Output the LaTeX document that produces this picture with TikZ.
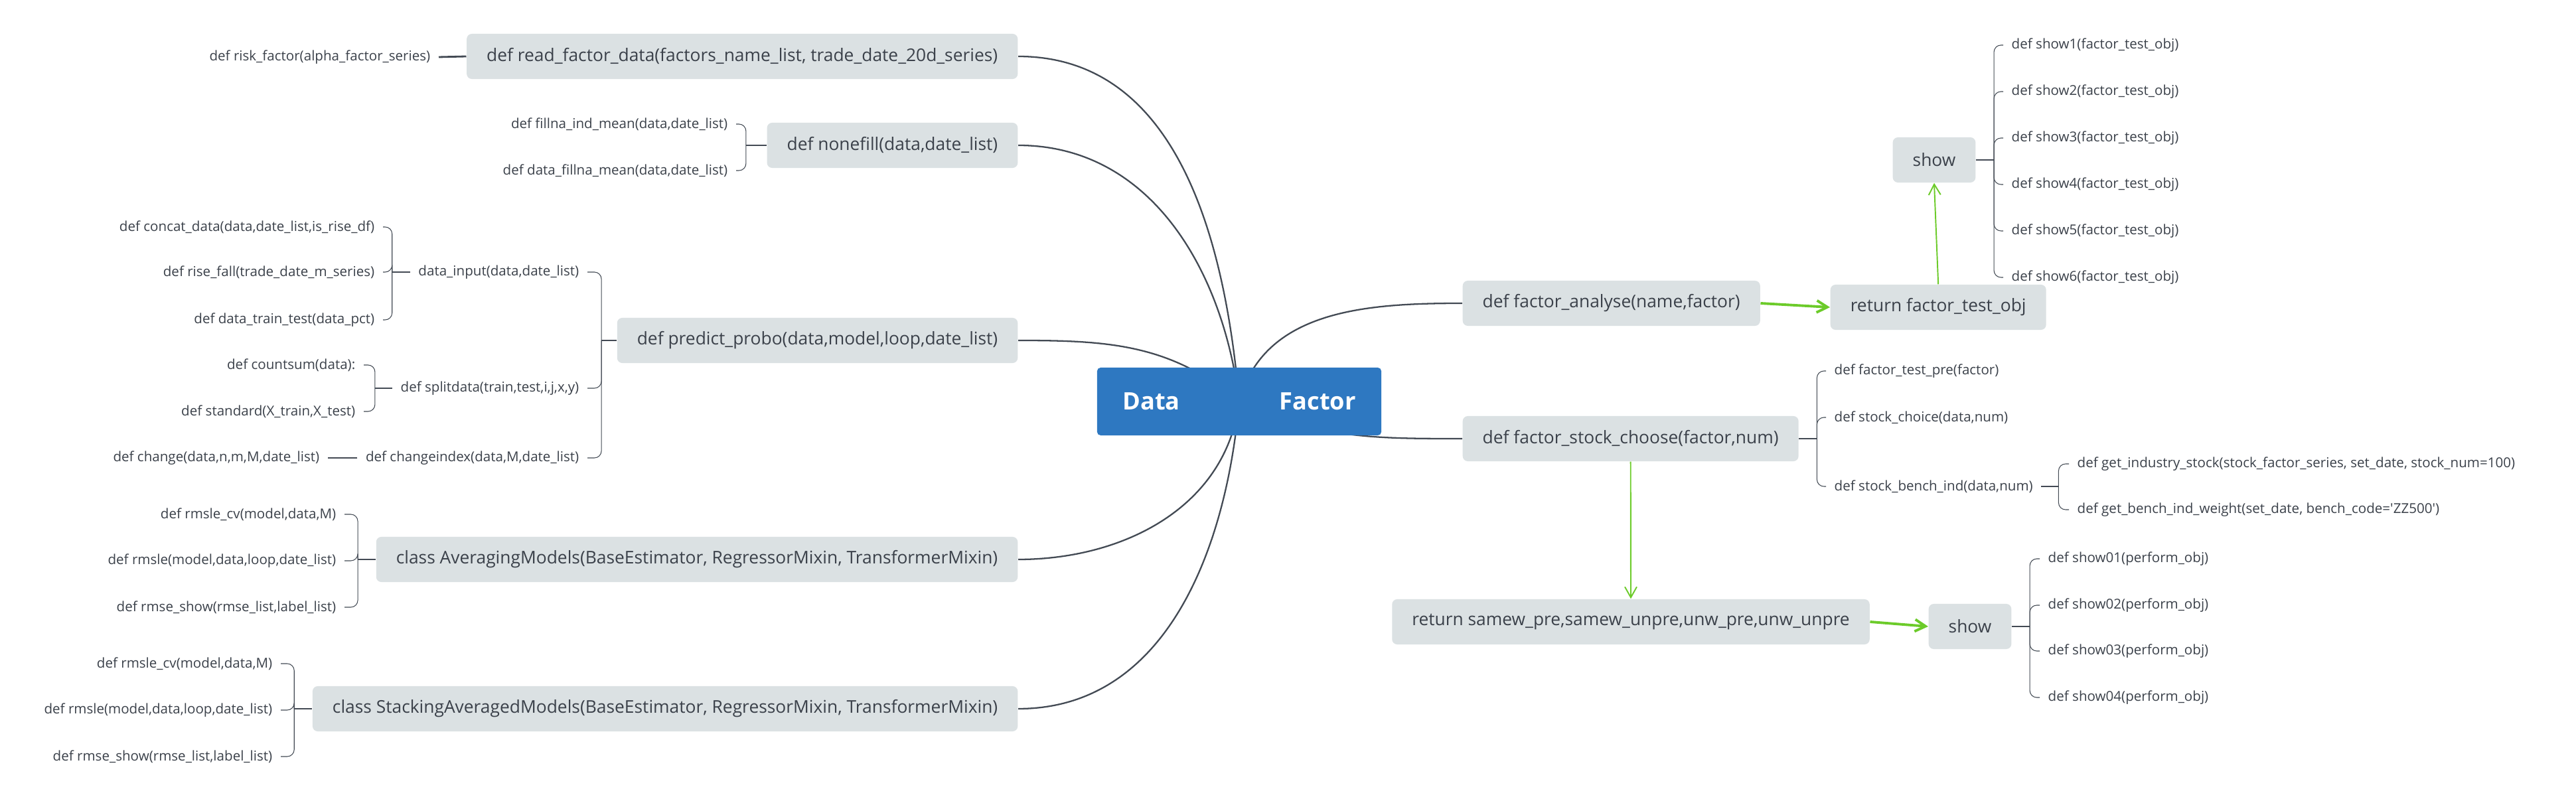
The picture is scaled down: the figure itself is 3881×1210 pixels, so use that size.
\documentclass[tikz,border=0pt]{standalone}
\usepackage{fontspec}
\setmainfont{Open Sans}
\usetikzlibrary{arrows.meta,backgrounds}

\definecolor{boxgray}{HTML}{DBE1E3}
\definecolor{inkgray}{HTML}{3B414A}
\definecolor{linegray}{HTML}{434A54}
\definecolor{topicblue}{HTML}{2E78C1}
\definecolor{arrowgreen}{HTML}{6CCB2A}

\begin{document}
\begin{tikzpicture}[x=0.01cm, y=-0.01cm,
        topic/.style={fill=topicblue, rounded corners=1.5pt, minimum width=4.28cm, minimum height=1.02cm, text=white, font=\fontsize{10.3pt}{12pt}\selectfont\bfseries},
        func/.style={fill=boxgray, rounded corners=2.2pt, minimum height=0.68cm, inner xsep=0.3cm, text=inkgray, font=\fontsize{7.5pt}{8.5pt}\selectfont},
        leaf/.style={inner xsep=0.12cm, inner ysep=0.05cm, text=inkgray, font=\fontsize{5.85pt}{7pt}\selectfont},
        branch/.style={draw=linegray, line width=0.65pt},
        stub/.style={draw=linegray, line width=0.8pt},
        brk/.style={draw=linegray, line width=0.3pt, rounded corners=3pt},
        flow/.style={draw=arrowgreen, line width=0.55pt, -{Straight Barb[length=0.16cm, width=0.18cm]}},
        bigflow/.style={flow, line width=1.1pt}]

        \useasboundingbox (0,0) rectangle (3881,1210);

        % Nodes
        \node[topic] at (1867, 605) (datafactor) {Data\hspace{1.5cm}Factor};

        \node[func, anchor=east] at (1534, 85)   (read)     {def read\_factor\_data(factors\_name\_list, trade\_date\_20d\_series)};
        \node[func, anchor=east] at (1534, 219)  (nonefill) {def nonefill(data,date\_list)};
        \node[func, anchor=east] at (1534, 513)  (predict)  {def predict\_probo(data,model,loop,date\_list)};
        \node[func, anchor=east] at (1534, 843)  (avg)      {class AveragingModels(BaseEstimator, RegressorMixin, TransformerMixin)};
        \node[func, anchor=east] at (1534, 1068) (stack)    {class StackingAveragedModels(BaseEstimator, RegressorMixin, TransformerMixin)};

        \node[leaf, anchor=east] at (661, 86)   (risk)     {def risk\_factor(alpha\_factor\_series)};
        \node[leaf, anchor=east] at (1109, 187) (fillna)   {def fillna\_ind\_mean(data,date\_list)};
        \node[leaf, anchor=east] at (1109, 257) (dfmean)   {def data\_fillna\_mean(data,date\_list)};
        \node[leaf, anchor=east] at (885, 410)  (dinput)   {data\_input(data,date\_list)};
        \node[leaf, anchor=east] at (885, 585)  (split)    {def splitdata(train,test,i,j,x,y)};
        \node[leaf, anchor=east] at (885, 690)  (cindex)   {def changeindex(data,M,date\_list)};
        \node[leaf, anchor=east] at (577, 342)  (concat)   {def concat\_data(data,date\_list,is\_rise\_df)};
        \node[leaf, anchor=east] at (577, 410)  (risefall) {def rise\_fall(trade\_date\_m\_series)};
        \node[leaf, anchor=east] at (577, 482)  (dtt)      {def data\_train\_test(data\_pct)};
        \node[leaf, anchor=east] at (548, 550)  (countsum) {def countsum(data):};
        \node[leaf, anchor=east] at (548, 620)  (standard) {def standard(X\_train,X\_test)};
        \node[leaf, anchor=east] at (494, 690)  (change)   {def change(data,n,m,M,date\_list)};
        \node[leaf, anchor=east] at (519, 775)  (cvA)      {def rmsle\_cv(model,data,M)};
        \node[leaf, anchor=east] at (519, 845)  (rmsleA)   {def rmsle(model,data,loop,date\_list)};
        \node[leaf, anchor=east] at (519, 915)  (rmseA)    {def rmse\_show(rmse\_list,label\_list)};
        \node[leaf, anchor=east] at (423, 1000) (cvB)      {def rmsle\_cv(model,data,M)};
        \node[leaf, anchor=east] at (423, 1070) (rmsleB)   {def rmsle(model,data,loop,date\_list)};
        \node[leaf, anchor=east] at (423, 1140) (rmseB)    {def rmse\_show(rmse\_list,label\_list)};

        \node[func, anchor=west] at (2203, 457) (analyse) {def factor\_analyse(name,factor)};
        \node[func, anchor=west] at (2757, 463) (retobj)  {return factor\_test\_obj};
        \node[func]              at (2914, 241) (showA)   {show};
        \node[func, anchor=west] at (2203, 661) (choose)  {def factor\_stock\_choose(factor,num)};
        \node[func]              at (2457, 937) (retsam)  {return samew\_pre,samew\_unpre,unw\_pre,unw\_unpre};
        \node[func]              at (2968, 944) (showB)   {show};

        \node[leaf, anchor=west] at (3018, 68)  (show1) {def show1(factor\_test\_obj)};
        \node[leaf, anchor=west] at (3018, 138) (show2) {def show2(factor\_test\_obj)};
        \node[leaf, anchor=west] at (3018, 208) (show3) {def show3(factor\_test\_obj)};
        \node[leaf, anchor=west] at (3018, 278) (show4) {def show4(factor\_test\_obj)};
        \node[leaf, anchor=west] at (3018, 348) (show5) {def show5(factor\_test\_obj)};
        \node[leaf, anchor=west] at (3018, 418) (show6) {def show6(factor\_test\_obj)};

        \node[leaf, anchor=west] at (2751, 559) (testpre) {def factor\_test\_pre(factor)};
        \node[leaf, anchor=west] at (2751, 629) (choice)  {def stock\_choice(data,num)};
        \node[leaf, anchor=west] at (2751, 733) (bench)   {def stock\_bench\_ind(data,num)};
        \node[leaf, anchor=west] at (3117, 699) (industry) {def get\_industry\_stock(stock\_factor\_series, set\_date, stock\_num=100)};
        \node[leaf, anchor=west] at (3117, 768) (weight)   {def get\_bench\_ind\_weight(set\_date, bench\_code=\textquotesingle ZZ500\textquotesingle)};

        \node[leaf, anchor=west] at (3073, 842)  (show01) {def show01(perform\_obj)};
        \node[leaf, anchor=west] at (3073, 912)  (show02) {def show02(perform\_obj)};
        \node[leaf, anchor=west] at (3073, 981)  (show03) {def show03(perform\_obj)};
        \node[leaf, anchor=west] at (3073, 1051) (show04) {def show04(perform\_obj)};

        % Main branches
        \begin{scope}[on background layer]
        \fill[white] (0,0) rectangle (3881,1210);
        \draw[branch] (read.east) to[out=0, in=95] (datafactor.center);
        \draw[branch] (nonefill.east) to[out=0, in=97] (datafactor.center);
        \draw[branch] (predict.east) to[out=0, in=140] (datafactor.center);
        \draw[branch] (avg.east) to[out=0, in=-97] (datafactor.center);
        \draw[branch] (stack.east) to[out=0, in=-95] (datafactor.center);
        \draw[branch] (datafactor.center) to[out=75, in=180] (analyse.west);
        \draw[branch] (datafactor.center) to[out=-25, in=180] (choose.west);
        \end{scope}

        % Brackets
        \draw[stub] (read.west) -- (risk.east);

        \draw[stub] (nonefill.west) -- ++(-31,0);
        \draw[brk]  (nonefill.west) ++(-31,0) |- (fillna.east);
        \draw[brk]  (nonefill.west) ++(-31,0) |- (dfmean.east);

        \draw[stub] (predict.west) -- ++(-23,0);
        \draw[brk]  (predict.west) ++(-23,0) |- (dinput.east);
        \draw[brk]  (predict.west) ++(-23,0) |- (split.east);
        \draw[brk]  (predict.west) ++(-23,0) |- (cindex.east);

        \draw[stub] (dinput.west) -- ++(-27,0);
        \draw[brk]  (dinput.west) ++(-27,0) |- (concat.east);
        \draw[brk]  (dinput.west) ++(-27,0) |- (risefall.east);
        \draw[brk]  (dinput.west) ++(-27,0) |- (dtt.east);

        \draw[stub] (split.west) -- ++(-26,0);
        \draw[brk]  (split.west) ++(-26,0) |- (countsum.east);
        \draw[brk]  (split.west) ++(-26,0) |- (standard.east);

        \draw[stub] (cindex.west) -- (change.east);

        \draw[stub] (avg.west) -- ++(-27,0);
        \draw[brk]  (avg.west) ++(-27,0) |- (cvA.east);
        \draw[brk]  (avg.west) ++(-27,0) |- (rmsleA.east);
        \draw[brk]  (avg.west) ++(-27,0) |- (rmseA.east);

        \draw[stub] (stack.west) -- ++(-27,0);
        \draw[brk]  (stack.west) ++(-27,0) |- (cvB.east);
        \draw[brk]  (stack.west) ++(-27,0) |- (rmsleB.east);
        \draw[brk]  (stack.west) ++(-27,0) |- (rmseB.east);

        \draw[stub] (showA.east) -- ++(27,0);
        \draw[brk]  (showA.east) ++(27,0) |- (show1.west);
        \draw[brk]  (showA.east) ++(27,0) |- (show2.west);
        \draw[brk]  (showA.east) ++(27,0) |- (show3.west);
        \draw[brk]  (showA.east) ++(27,0) |- (show4.west);
        \draw[brk]  (showA.east) ++(27,0) |- (show5.west);
        \draw[brk]  (showA.east) ++(27,0) |- (show6.west);

        \draw[stub] (choose.east) -- ++(27,0);
        \draw[brk]  (choose.east) ++(27,0) |- (testpre.west);
        \draw[brk]  (choose.east) ++(27,0) |- (choice.west);
        \draw[brk]  (choose.east) ++(27,0) |- (bench.west);

        \draw[stub] (bench.east) -- ++(26,0);
        \draw[brk]  (bench.east) ++(26,0) |- (industry.west);
        \draw[brk]  (bench.east) ++(26,0) |- (weight.west);

        \draw[stub] (showB.east) -- ++(27,0);
        \draw[brk]  (showB.east) ++(27,0) |- (show01.west);
        \draw[brk]  (showB.east) ++(27,0) |- (show02.west);
        \draw[brk]  (showB.east) ++(27,0) |- (show03.west);
        \draw[brk]  (showB.east) ++(27,0) |- (show04.west);

        % Flow arrows
        \draw[bigflow] (analyse.east) -- (retobj.west);
        \draw[flow]    (retobj.north) -- (showA.south);
        \draw[flow]    (choose.south) -- (retsam.north);
        \draw[bigflow] (retsam.east) -- (showB.west);
    \end{tikzpicture}
\end{document}
